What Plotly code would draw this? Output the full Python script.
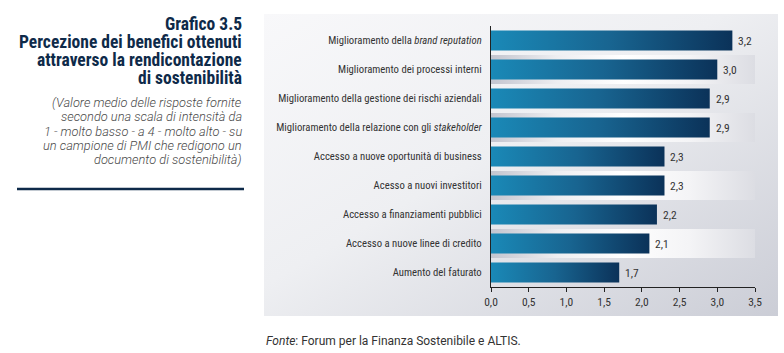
import base64
import plotly.graph_objects as go

# ---------------- data ----------------
categories = [
    "Miglioramento della <i>brand reputation</i>",
    "Miglioramento dei processi interni",
    "Miglioramento della gestione dei rischi aziendali",
    "Miglioramento della relazione con gli <i>stakeholder</i>",
    "Accesso a nuove oportunità di business",
    "Acesso a nuovi investitori",
    "Accesso a finanziamenti pubblici",
    "Accesso a nuove linee di credito",
    "Aumento del faturato",
]
values = [3.2, 3.0, 2.9, 2.9, 2.3, 2.3, 2.2, 2.1, 1.7]
tick_values = [0, 0.5, 1.0, 1.5, 2.0, 2.5, 3.0, 3.5]
tick_labels = ["0,0", "0,5", "1,0", "1,5", "2,0", "2,5", "3,0", "3,5"]

title_lines = [
    "Grafico 3.5",
    "Percezione dei benefici ottenuti",
    "attraverso la rendicontazione",
    "di sostenibilità",
]
subtitle_lines = [
    "(Valore medio delle risposte fornite",
    "secondo una scala di intensità da",
    "1 - molto basso - a 4 - molto alto - su",
    "un campione di PMI che redigono un",
    "documento di sostenibilità)",
]
source_text = "<i>Fonte</i>: Forum per la Finanza Sostenibile e ALTIS."

# ---------------- layout constants (pixels) ----------------
W, H = 784, 353
PL, PR, PT, PB = 491, 755, 26, 287  # plot area
BAR_H = 0.69
NAVY = "#0e2a49"
COND = "Roboto Condensed, Liberation Sans Narrow, DejaVu Sans Condensed, Roboto, sans-serif"


def px_x(p):
    return (p - PL) / (PR - PL)


def px_y(p):
    return (PB - p) / (PB - PT)


def svg_uri(stops, x2="100%", y2="0%"):
    st = "".join(f'<stop offset="{o}" stop-color="{c}"/>' for o, c in stops)
    svg = (f'<svg xmlns="http://www.w3.org/2000/svg" width="100" height="100" preserveAspectRatio="none">'
           f'<defs><linearGradient id="g" x1="0%" y1="0%" x2="{x2}" y2="{y2}">{st}</linearGradient></defs>'
           f'<rect width="100" height="100" fill="url(#g)"/></svg>')
    return "data:image/svg+xml;base64," + base64.b64encode(svg.encode()).decode()


fig = go.Figure()

# bars as gradient-filled polygons built from the data
for i, v in enumerate(values):
    y0, y1 = i - BAR_H / 2, i + BAR_H / 2
    fig.add_trace(go.Scatter(
        x=[0, v, v, 0, 0], y=[y0, y0, y1, y1, y0],
        mode="lines", line=dict(width=0), fill="toself",
        fillgradient=dict(type="horizontal", start=0, stop=v,
                          colorscale=[[0, "#1a89b7"], [0.5, "#186490"], [1, "#0b3259"]]),
        hoverinfo="skip", showlegend=False,
    ))

annotations = []
# value labels
for i, v in enumerate(values):
    annotations.append(dict(
        text=f"{v:.1f}".replace(".", ","), x=v, y=i, xref="x", yref="y",
        xanchor="left", yanchor="middle", xshift=4, showarrow=False,
        font=dict(family=COND, size=11.5, color="#333333"),
    ))

images = []
# panel background
images.append(dict(
    source=svg_uri([("0", "#f8f8fa"), ("0.45", "#eeeff2"), ("1", "#cbcdd6")], x2="100%", y2="100%"),
    xref="paper", yref="paper", x=px_x(264), y=px_y(14),
    sizex=px_x(778) - px_x(264), sizey=px_y(14) - px_y(316),
    xanchor="left", yanchor="top", sizing="stretch", layer="below",
))
# alternating row bands
band_src = svg_uri([("0", "#c3c5cf"), ("0.25", "#eeeef1"), ("0.5", "#ffffff"), ("0.75", "#f4f4f6"), ("1", "#dcdde3")])
for i in range(0, len(values), 2):
    images.append(dict(
        source=band_src, xref="x", yref="y", x=0, y=i - 0.5,
        sizex=tick_values[-1], sizey=1, xanchor="left", yanchor="bottom",
        sizing="stretch", layer="below",
    ))

title_y = [24, 42, 60, 78]
for t, yy in zip(title_lines, title_y):
    annotations.append(dict(
        text=f"<b>{t}</b>", xref="paper", yref="paper", x=px_x(244), y=px_y(yy),
        xanchor="right", yanchor="middle", showarrow=False,
        font=dict(family=COND, size=17.5, color=NAVY),
    ))
sub_y = [102.5, 116.8, 131, 145.3, 159.5]
for t, yy in zip(subtitle_lines, sub_y):
    annotations.append(dict(
        text=f"<i>{t}</i>", xref="paper", yref="paper", x=px_x(244), y=px_y(yy),
        xanchor="right", yanchor="middle", showarrow=False,
        font=dict(family="Roboto, sans-serif", size=12.8, color="#4a4a4a", weight=300),
    ))
annotations.append(dict(
    text=source_text, xref="paper", yref="paper", x=px_x(264), y=px_y(340.5),
    xanchor="left", yanchor="middle", showarrow=False,
    font=dict(family="Roboto, sans-serif", size=12, color="#333333"),
))

shapes = [dict(type="line", xref="paper", yref="paper",
               x0=px_x(17), x1=px_x(244), y0=px_y(189), y1=px_y(189),
               line=dict(color=NAVY, width=2.5))]

fig.update_layout(
    width=W, height=H,
    margin=dict(l=PL, r=W - PR, t=PT, b=H - PB, pad=0),
    paper_bgcolor="white", plot_bgcolor="rgba(0,0,0,0)",
    images=images, annotations=annotations, shapes=shapes,
    showlegend=False,
    xaxis=dict(range=[0, 3.5], tickvals=tick_values, ticktext=tick_labels,
               showgrid=False, zeroline=False, showline=True, linecolor="#222222", linewidth=1.3,
               ticks="outside", ticklen=4, tickcolor="#222222", tickwidth=1,
               tickfont=dict(family=COND, size=11.5, color="#333333"), fixedrange=True),
    yaxis=dict(range=[8.5, -0.5], tickvals=list(range(len(categories))), ticktext=categories,
               showgrid=False, zeroline=False, showline=True, linecolor="#222222", linewidth=1.3,
               ticks="", ticklabelstandoff=6,
               tickfont=dict(family=COND, size=10.7, color="#333333"), fixedrange=True),
)

fig.write_html("out.html")
